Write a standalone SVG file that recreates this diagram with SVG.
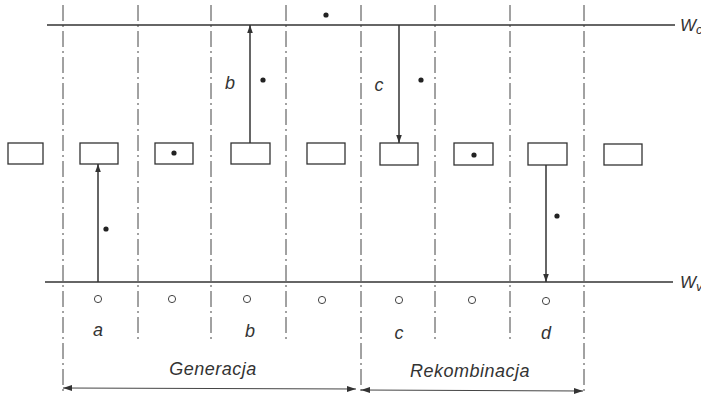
<svg xmlns="http://www.w3.org/2000/svg" width="701" height="398" viewBox="0 0 701 398">
<defs>
<style>
.band{stroke:#333;stroke-width:1.3;fill:none}
.grid{stroke:#444;stroke-width:1;stroke-dasharray:16,4,2,4;fill:none}
.box{fill:#fff;stroke:#333;stroke-width:1.3}
.arr{stroke:#333;stroke-width:1.5;fill:none}
.dim{stroke:#444;stroke-width:1;fill:none}
.dh{fill:#333}
.el{fill:#222}
.hole{fill:#fff;stroke:#444;stroke-width:1}
text{font-family:"Liberation Sans",Arial,sans-serif;font-style:italic;fill:#333}
.lbl{font-size:18px;text-anchor:middle}
.cap{font-size:18px;text-anchor:middle;letter-spacing:0.5px}
</style>
<marker id="ah" viewBox="0 0 10 10" refX="10" refY="5" markerWidth="8" markerHeight="8" markerUnits="userSpaceOnUse" orient="auto">
<path d="M0,1.5 L10,5 L0,8.5 Z" fill="#333"/>
</marker>
</defs>
<g id="grid">
<line class="grid" x1="63" y1="5" x2="63" y2="392"/>
<line class="grid" x1="138" y1="5" x2="138" y2="342"/>
<line class="grid" x1="211" y1="5" x2="211" y2="342"/>
<line class="grid" x1="286" y1="5" x2="286" y2="342"/>
<line class="grid" x1="361" y1="5" x2="361" y2="394"/>
<line class="grid" x1="435" y1="5" x2="435" y2="342"/>
<line class="grid" x1="510" y1="5" x2="510" y2="342"/>
<line class="grid" x1="584" y1="5" x2="584" y2="394"/>
</g>
<g id="Wc">
<line class="band" x1="47" y1="25" x2="675" y2="25"/>
<text x="680" y="31" font-size="17">W<tspan font-size="13" dy="3">c</tspan></text>
</g>
<g id="Wv">
<line class="band" x1="45" y1="282" x2="673" y2="282"/>
<text x="680" y="288" font-size="17">W<tspan font-size="13" dy="3">v</tspan></text>
</g>
<g id="traps">
<rect class="box" x="8" y="143" width="35" height="21"/>
<rect class="box" x="80" y="143" width="38" height="21"/>
<rect class="box" x="155" y="143" width="38" height="21"/>
<rect class="box" x="231" y="143" width="39" height="21"/>
<rect class="box" x="307" y="143" width="38" height="21"/>
<rect class="box" x="380" y="143" width="38" height="22"/>
<rect class="box" x="454" y="143" width="39" height="22"/>
<rect class="box" x="528" y="143" width="39" height="22"/>
<rect class="box" x="604" y="144" width="38" height="21"/>
</g>
<g id="connectors">
<line class="arr" x1="98" y1="282" x2="98" y2="164" marker-end="url(#ah)"/>
<line class="arr" x1="250" y1="143" x2="250" y2="25" marker-end="url(#ah)"/>
<line class="arr" x1="399" y1="25" x2="399" y2="143" marker-end="url(#ah)"/>
<line class="arr" x1="546" y1="165" x2="546" y2="282" marker-end="url(#ah)"/>
</g>
<g id="electrons">
<circle class="el" cx="326" cy="15" r="2.6"/>
<circle class="el" cx="174" cy="153" r="2.6"/>
<circle class="el" cx="474" cy="155" r="2.6"/>
<circle class="el" cx="263" cy="80" r="2.6"/>
<circle class="el" cx="421" cy="80" r="2.6"/>
<circle class="el" cx="106" cy="229" r="2.6"/>
<circle class="el" cx="557" cy="216" r="2.6"/>
</g>
<g id="holes">
<circle class="hole" cx="98" cy="299" r="3.6"/>
<circle class="hole" cx="172" cy="299" r="3.6"/>
<circle class="hole" cx="247" cy="299" r="3.6"/>
<circle class="hole" cx="322" cy="300" r="3.6"/>
<circle class="hole" cx="399" cy="300" r="3.6"/>
<circle class="hole" cx="472" cy="300" r="3.6"/>
<circle class="hole" cx="546" cy="301" r="3.6"/>
</g>
<g id="labels">
<text class="lbl" x="230" y="89">b</text>
<text class="lbl" x="379" y="91">c</text>
<text class="lbl" x="98" y="336">a</text>
<text class="lbl" x="250" y="337">b</text>
<text class="lbl" x="399" y="339">c</text>
<text class="lbl" x="546" y="339">d</text>
</g>
<g id="generacja">
<line class="dim" x1="63" y1="388" x2="356" y2="389"/>
<path class="dh" d="M63,388 L72,385 L72,391 Z"/>
<path class="dh" d="M356,389 L347,386 L347,392 Z"/>
<text class="cap" x="213" y="375">Generacja</text>
</g>
<g id="rekombinacja">
<line class="dim" x1="361" y1="390" x2="583" y2="391"/>
<path class="dh" d="M361,390 L370,387 L370,393 Z"/>
<path class="dh" d="M583,391 L574,388 L574,394 Z"/>
<text class="cap" x="470" y="377">Rekombinacja</text>
</g>
</svg>
